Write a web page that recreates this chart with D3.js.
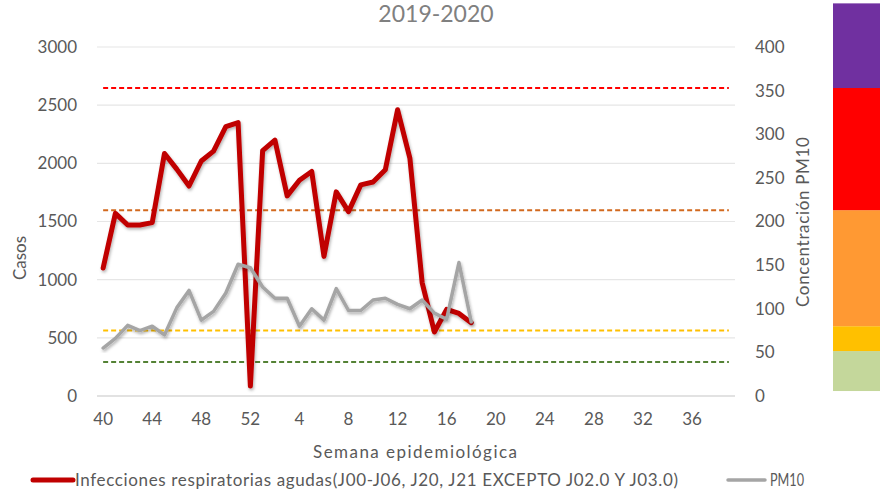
<!DOCTYPE html>
<html>
<head>
<meta charset="utf-8">
<script src="https://cdn.jsdelivr.net/npm/d3@7"></script>
<style>
  body { margin: 0; background: #fff; }
  svg { display: block; font-family: Lato, "Open Sans", sans-serif; }
</style>
</head>
<body>
<div id="chart"></div>
<script>
// semanas epidemiologicas 2019-2020
const weeks = [40, 41, 42, 43, 44, 45, 46, 47, 48, 49, 50, 51, 52,
  1, 2, 3, 4, 5, 6, 7, 8, 9, 10, 11, 12, 13, 14, 15, 16, 17, 18, 19, 20,
  21, 22, 23, 24, 25, 26, 27, 28, 29, 30, 31, 32, 33, 34, 35, 36, 37, 38, 39];

// casos IRA (eje izquierdo)
const ira = [1100, 1570, 1470, 1470, 1490, 2085, 1950, 1805, 2020, 2105, 2315, 2350, 85,
  2110, 2200, 1720, 1855, 1930, 1200, 1755, 1585, 1815, 1840, 1945, 2460, 2045, 975, 550, 745, 710, 630];

// concentracion PM10 (eje derecho)
const pm10 = [55, 66, 81, 75, 80, 70, 101, 121, 87, 97, 118, 151, 147,
  125, 112, 112, 80, 100, 87, 123, 98, 98, 110, 112, 105, 100, 110, 95, 88, 153, 85];

// lineas de referencia (eje derecho)
const limits = [353, 213, 75, 39];
const limitColors = ["#FF0000", "#D2691E", "#FFC000", "#548235"];

// barra de colores a la derecha (en unidades del eje derecho)
const bandStops = [5.7, 51.5, 80, 213, 353, 450];
const bandColors = ["#C4D79B", "#FFC000", "#FF9933", "#FF0000", "#7030A0"];

const leftTicks = [0, 500, 1000, 1500, 2000, 2500, 3000];
const rightTicks = [0, 50, 100, 150, 200, 250, 300, 350, 400];
const xTicks = [40, 44, 48, 52, 4, 8, 12, 16, 20, 24, 28, 32, 36];

const width = 885, height = 490;
const margin = {top: 47, right: 150, bottom: 94, left: 97};
const visWidth = width - margin.left - margin.right;   // 638
const visHeight = height - margin.top - margin.bottom; // 349

const svg = d3.select("#chart").append("svg")
  .attr("width", width).attr("height", height);

const defs = svg.append("defs");
const f = defs.append("filter").attr("id", "shadow")
  .attr("x", "-5%").attr("y", "-5%").attr("width", "110%").attr("height", "110%");
f.append("feDropShadow").attr("dx", 1).attr("dy", 2).attr("stdDeviation", 1.5)
  .attr("flood-color", "#000").attr("flood-opacity", 0.3);

const g = svg.append("g").attr("transform", `translate(${margin.left}, ${margin.top})`);

let x = d3.scaleBand().domain(d3.range(weeks.length)).range([0, visWidth]);
let xc = i => x(i) + x.bandwidth() / 2;
let yL = d3.scaleLinear().domain([0, 3000]).range([visHeight, 0]);
let yR = d3.scaleLinear().domain([0, 400]).range([visHeight, 0]);

// gridlines
g.append("g")
  .selectAll("line")
  .data(leftTicks.slice(1))
  .join("line")
    .attr("x1", 0).attr("x2", visWidth)
    .attr("y1", d => yL(d)).attr("y2", d => yL(d))
    .attr("stroke", "#E6E6E6").attr("stroke-width", 1.2);

g.append("line")
  .attr("x1", 0).attr("x2", visWidth)
  .attr("y1", visHeight).attr("y2", visHeight)
  .attr("stroke", "#D9D9D9").attr("stroke-width", 1.5);

// left axis
const yAxisL = d3.axisLeft(yL).tickValues(leftTicks).tickFormat(d3.format("d"))
  .tickSize(0).tickPadding(20);
g.append("g").call(yAxisL)
  .call(a => a.select(".domain").remove())
  .selectAll("text")
    .attr("font-family", "Lato, sans-serif")
    .attr("font-size", 17)
    .attr("fill", "#595959");

// right axis
const yAxisR = d3.axisRight(yR).tickValues(rightTicks).tickFormat(d3.format("d"))
  .tickSize(0).tickPadding(20);
g.append("g").attr("transform", `translate(${visWidth}, 0)`).call(yAxisR)
  .call(a => a.select(".domain").remove())
  .selectAll("text")
    .attr("font-family", "Lato, sans-serif")
    .attr("font-size", 17)
    .attr("fill", "#595959");

// bottom axis
const xAxis = d3.axisBottom(x)
  .tickValues(d3.range(weeks.length).filter(i => xTicks.includes(weeks[i]) && (i < 13 || weeks[i] < 40)))
  .tickFormat(i => weeks[i]).tickSize(0).tickPadding(17);
g.append("g").attr("transform", `translate(0, ${visHeight})`).call(xAxis)
  .call(a => a.select(".domain").remove())
  .selectAll("text")
    .attr("font-family", "Lato, sans-serif")
    .attr("font-size", 17)
    .attr("fill", "#595959");

// dashed reference lines
limits.forEach((v, k) => {
  const pts = weeks.map((w, i) => [xc(i), yR(v)]);
  g.append("path")
    .attr("d", d3.line()(pts))
    .attr("fill", "none")
    .attr("stroke", limitColors[k])
    .attr("stroke-width", 2)
    .attr("stroke-dasharray", "5,3");
});

// series
g.append("path")
  .datum(ira)
  .attr("d", d3.line().x((d, i) => xc(i)).y(d => yL(d)))
  .attr("fill", "none")
  .attr("stroke", "#C00000")
  .attr("stroke-width", 5)
  .attr("stroke-linejoin", "round")
  .attr("stroke-linecap", "round")
  .attr("filter", "url(#shadow)");

g.append("path")
  .datum(pm10)
  .attr("d", d3.line().x((d, i) => xc(i)).y(d => yR(d)))
  .attr("fill", "none")
  .attr("stroke", "#A5A5A5")
  .attr("stroke-width", 3.5)
  .attr("stroke-linejoin", "round")
  .attr("stroke-linecap", "round")
  .attr("filter", "url(#shadow)");

// color band on the right
const bands = bandColors.map((c, k) => ({c: c, lo: bandStops[k], hi: bandStops[k + 1]}));
svg.append("g").attr("transform", `translate(0, ${margin.top})`)
  .selectAll("rect")
  .data(bands)
  .join("rect")
    .attr("x", 833)
    .attr("width", 47)
    .attr("y", d => yR(d.hi))
    .attr("height", d => yR(d.lo) - yR(d.hi))
    .attr("fill", d => d.c);

// title
svg.append("text")
  .attr("x", 436).attr("y", 22)
  .attr("text-anchor", "middle")
  .attr("font-size", 23)
  .attr("fill", "#808080")
  .text("2019-2020");

// axis titles
svg.append("text")
  .attr("transform", "translate(26, 258) rotate(-90)")
  .attr("text-anchor", "middle")
  .attr("font-size", 17)
  .attr("fill", "#595959")
  .text("Casos");

svg.append("text")
  .attr("transform", "translate(809, 222) rotate(-90)")
  .attr("text-anchor", "middle")
  .attr("font-size", 17)
  .attr("fill", "#595959")
  .attr("textLength", 170)
  .text("Concentración PM10");

svg.append("text")
  .attr("x", 415).attr("y", 458)
  .attr("text-anchor", "middle")
  .attr("font-size", 17)
  .attr("fill", "#595959")
  .attr("textLength", 204)
  .text("Semana epidemiológica");

// legend
const legend = svg.append("g");
legend.append("line")
  .attr("x1", 33).attr("x2", 73).attr("y1", 480).attr("y2", 480)
  .attr("stroke", "#C00000").attr("stroke-width", 5).attr("stroke-linecap", "round");
legend.append("text")
  .attr("x", 75).attr("y", 486)
  .attr("font-size", 17)
  .attr("fill", "#595959")
  .attr("textLength", 603)
  .text("Infecciones respiratorias agudas(J00-J06, J20, J21 EXCEPTO J02.0 Y J03.0)");
legend.append("line")
  .attr("x1", 728).attr("x2", 765).attr("y1", 480).attr("y2", 480)
  .attr("stroke", "#A5A5A5").attr("stroke-width", 3.5).attr("stroke-linecap", "round");
legend.append("text")
  .attr("x", 770).attr("y", 486)
  .attr("font-size", 17)
  .attr("fill", "#595959")
  .attr("textLength", 34)
  .attr("lengthAdjust", "spacingAndGlyphs")
  .text("PM10");
</script>
</body>
</html>
